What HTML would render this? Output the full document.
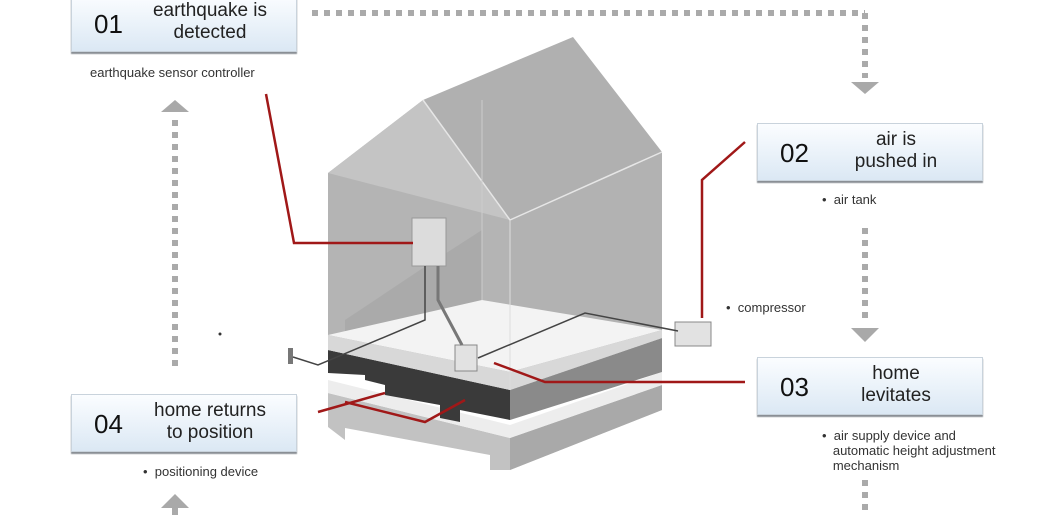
<!DOCTYPE html>
<html><head><meta charset="utf-8"><style>
html,body{margin:0;padding:0;background:#fff;width:1045px;height:515px;overflow:hidden;font-family:"Liberation Sans",sans-serif}
.box{position:absolute;width:224px;height:56px;background:linear-gradient(#fbfdff,#dbe8f4);border:1px solid #c9d3dc;box-shadow:0 2px 1px #8a8f95;}
.num{position:absolute;left:22px;top:14px;font-size:26px;color:#111}
.t{position:absolute;left:68px;width:140px;text-align:center;top:5px;font-size:19px;line-height:22px;color:#222}
.s{position:absolute;font-size:13px;color:#333;line-height:15px}
</style></head><body>
<svg width="1045" height="515" style="position:absolute;left:0;top:0">
<g fill="#a9a9a9">
<line x1="312" y1="13" x2="865" y2="13" stroke="#aaa" stroke-width="6" stroke-dasharray="6,6"/>
<line x1="865" y1="13" x2="865" y2="78" stroke="#aaa" stroke-width="6" stroke-dasharray="6,6"/>
<polygon points="851,82 879,82 865,94"/>
<line x1="865" y1="228" x2="865" y2="320" stroke="#aaa" stroke-width="6" stroke-dasharray="6,6"/>
<polygon points="851,328 879,328 865,342"/>
<line x1="865" y1="480" x2="865" y2="515" stroke="#aaa" stroke-width="6" stroke-dasharray="6,6"/>
<line x1="175" y1="120" x2="175" y2="370" stroke="#aaa" stroke-width="6" stroke-dasharray="6,6"/>
<polygon points="161,112 189,112 175,100"/>
<polygon points="161,508 189,508 175,494"/>
<line x1="175" y1="508" x2="175" y2="515" stroke="#aaa" stroke-width="6"/>
</g>
<!-- lower base -->
<polygon points="328,393 510,438 662,385 662,410 510,470 490,470 490,455 345,428 345,440 328,427" fill="#c2c2c2"/>
<polygon points="510,438 662,385 662,410 510,470" fill="#a9a9a9"/>
<polygon points="328,380 510,425 662,372 662,385 510,438 328,393" fill="#ededed"/>
<!-- slab -->
<polygon points="328,350 510,390 510,420 460,410 460,422 440,418 440,405 385,395 385,385 365,380 365,375 328,373" fill="#3a3a3a"/>
<polygon points="510,390 662,338 662,372 510,420" fill="#8a8a8a"/>
<!-- walls -->
<polygon points="328,173 423,100 510,220 510,390 328,350" fill="#b4b4b4"/>
<polygon points="423,100 573,37 662,152 510,220" fill="#b0b0b0"/>
<polygon points="510,220 662,152 662,338 510,390" fill="#a4a4a4" opacity="0.85"/>
<polygon points="328,173 423,100 510,220" fill="#c4c4c4"/>
<polygon points="345,320 420,270 482,230 482,300 345,335" fill="#999" opacity="0.35"/>
<!-- floor -->
<polygon points="328,335 482,300 662,330 510,372" fill="#f3f3f3"/>
<polygon points="328,335 510,372 662,330 662,338 510,390 328,350" fill="#d8d8d8"/>
<line x1="423" y1="100" x2="510" y2="220" stroke="#e6e6e6" stroke-width="1.5"/>
<line x1="510" y1="220" x2="662" y2="152" stroke="#e6e6e6" stroke-width="1.5"/>
<line x1="510" y1="220" x2="510" y2="390" stroke="#ddd"/>
<line x1="482" y1="100" x2="482" y2="300" stroke="#ccc"/>
<!-- devices -->
<rect x="412" y="218" width="34" height="48" fill="#dcdcdc" stroke="#999"/>
<rect x="455" y="345" width="22" height="26" fill="#e2e2e2" stroke="#888"/>
<rect x="675" y="322" width="36" height="24" fill="#e2e2e2" stroke="#888"/>
<rect x="288" y="348" width="5" height="16" fill="#777"/>
<polyline points="293,357 318,365 425,320 425,266" fill="none" stroke="#444" stroke-width="1.5"/>
<polyline points="438,266 438,300 462,345" fill="none" stroke="#777" stroke-width="3"/>
<polyline points="478,358 585,313 678,331" fill="none" stroke="#444" stroke-width="1.5"/>
<g stroke="#a01818" stroke-width="2.5" fill="none">
<polyline points="266,94 294,243 413,243"/>
<polyline points="745,142 702,180 702,318"/>
<polyline points="494,363 545,382 745,382"/>
<polyline points="318,412 385,393"/>
<polyline points="345,402 425,422 465,400"/>
</g>
<circle cx="220" cy="334" r="1.5" fill="#333"/>
</svg>
<div class="box" style="left:71px;top:-6px"><div class="num">01</div><div class="t">earthquake is<br>detected</div></div>
<div class="s" style="left:90px;top:65px">earthquake sensor controller</div>
<div class="box" style="left:757px;top:123px"><div class="num">02</div><div class="t">air is<br>pushed in</div></div>
<div class="s" style="left:822px;top:192px">•&nbsp; air tank</div>
<div class="s" style="left:726px;top:300px">•&nbsp; compressor</div>
<div class="box" style="left:757px;top:357px"><div class="num">03</div><div class="t">home<br>levitates</div></div>
<div class="s" style="left:822px;top:428px">•&nbsp; air supply device and<br>&nbsp;&nbsp;&nbsp;automatic height adjustment<br>&nbsp;&nbsp;&nbsp;mechanism</div>
<div class="box" style="left:71px;top:394px"><div class="num">04</div><div class="t">home returns<br>to position</div></div>
<div class="s" style="left:143px;top:464px">•&nbsp; positioning device</div>
</body></html>
